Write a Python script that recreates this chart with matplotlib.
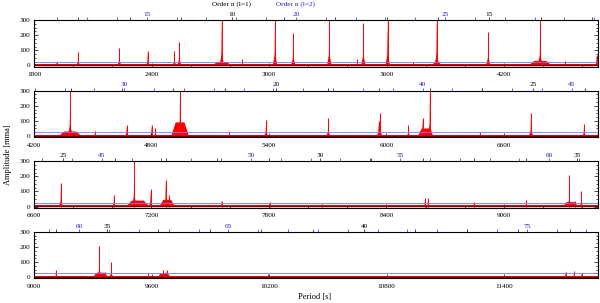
import numpy as np
import matplotlib.pyplot as plt
from matplotlib.ticker import MultipleLocator

plt.rcParams['font.family'] = ['Liberation Serif', 'DejaVu Serif']
plt.rcParams['font.size'] = 5.2

# each row shows 2880 s of the spectrum, rows start 2400 s apart
panel_start = [1800, 4200, 6600, 9000]
span = 2880

# peaks (period [s], amplitude [mma]); 320 = clipped at top
peak_period = [1916, 2026, 2236, 2381, 2517, 2542, 2759, 2864, 3031, 3124,
               3308, 3451, 3482, 3606, 3737, 3857, 4120, 4385, 4512, 4673,
               4801, 4820, 4946, 5197, 5385, 5703, 5960, 5967, 6112, 6185,
               6222, 6478, 6738, 7009, 7112, 7196, 7273, 7290, 7559, 7805,
               8069, 8597, 8612, 8847, 9113, 9334, 9364, 9395, 9584, 9660,
               9678, 10197, 11715, 11758, 11797]
peak_amp = [25, 92, 118, 98, 98, 158, 320, 40, 320, 213,
            320, 40, 278, 320, 25, 320, 223, 320, 30, 70,
            75, 55, 320, 30, 103, 119, 100, 155, 75, 119,
            320, 25, 155, 80, 320, 117, 177, 80, 40, 30,
            20, 60, 55, 30, 45, 208, 35, 100, 25, 45,
            50, 20, 35, 40, 30]

# broad low bumps under some peaks (centre, half width, height)
hump_center = [2760, 3857, 4385, 4946, 6200, 7130, 7280, 9340, 9665]
hump_halfwidth = [50, 25, 60, 45, 40, 60, 40, 40, 35]
hump_amp = [22, 20, 30, 90, 50, 40, 45, 30, 25]

threshold = 25
noise_level = 9
mean_level = 3

# asymptotic period spacing of the mode orders
dP1, off1 = 262.4, 189.0
dP2, off2 = 152.35, 90.2
l1_labels = [[10, 15], [20, 25], [25, 30, 35], [35, 40]]
l2_labels = [[15, 20, 25], [30, 40, 45], [45, 50, 55, 60], [60, 65, 75]]

red = '#ff0000'
blue = '#2020c8'

fig = plt.figure(figsize=(6, 3.03), dpi=100)
W, H = 600., 303.

for k, s in enumerate(panel_start):
    top = 20 + 70.6 * k
    ax = fig.add_axes([34 / W, 1 - (top + 46.5) / H, 564 / W, 46.5 / H])
    e = s + span

    ax.fill_between([s, e], 0, noise_level, color=red, lw=0)
    for c, w, h in zip(hump_center, hump_halfwidth, hump_amp):
        if s - w < c < e + w:
            ax.fill([c - w, c - w / 2, c + w / 2, c + w], [0, h, h, 0], color=red, lw=0)
    for p, a in zip(peak_period, peak_amp):
        if s - 30 < p < e + 30:
            ax.fill([p - 12, p, p + 12], [0, 0.25 * a, 0], color=red, lw=0)
            ax.fill([p - 3, p, p + 3], [0, a, 0], color=red, lw=0)
            ax.vlines(p, 0, a, color=red, lw=0.7)
    ax.axhline(mean_level, color='#800000', lw=1.0)
    ax.axhline(threshold, color='#7878ff', lw=0.6)

    ax.set_xlim(s, e)
    ax.set_ylim(-7, 300)
    ax.set_xticks(range(s, e, 600))
    ax.xaxis.set_minor_locator(MultipleLocator(200))
    ax.set_yticks([0, 100, 200, 300])
    ax.yaxis.set_minor_locator(MultipleLocator(25))
    ax.tick_params(axis='x', which='both', direction='in', pad=4)
    ax.tick_params(axis='y', which='both', direction='in', right=True, pad=3)
    ax.tick_params(which='major', length=3, width=0.5)
    ax.tick_params(which='minor', length=1.5, width=0.5)
    for sp in ax.spines.values():
        sp.set_linewidth(0.8)

    tw = ax.twiny()
    tw.set_xlim(s, e)
    n1 = [n for n in range(1, 60) if s <= dP1 * n + off1 <= e]
    n2 = [n for n in range(1, 100) if s <= dP2 * n + off2 <= e]
    tw.set_xticks([dP1 * n + off1 for n in n1],
                  labels=[str(n) if n in l1_labels[k] else '' for n in n1])
    tw.set_xticks([dP2 * n + off2 for n in n2],
                  labels=[str(n) if n in l2_labels[k] else '' for n in n2], minor=True)
    tw.tick_params(which='major', direction='out', length=2, width=0.5,
                   color='black', labelcolor='black', pad=0.3)
    tw.tick_params(which='minor', direction='out', length=2, width=0.5,
                   color=blue, labelcolor=blue, labelsize=5.2, pad=0.3)
    for sp in tw.spines.values():
        sp.set_visible(False)

fig.text(232 / W, 1 - 4 / H, 'Order n (l=1)', ha='center', va='center')
fig.text(296 / W, 1 - 4 / H, 'Order n (l=2)', ha='center', va='center', color=blue)
fig.text(8 / W, 1 - 155 / H, 'Amplitude [mma]', rotation=90, ha='center', va='center', fontsize=6)
fig.text(315 / W, 1 - 297 / H, 'Period [s]', ha='center', va='center', fontsize=6)

fig.savefig('out.png', dpi=100)
